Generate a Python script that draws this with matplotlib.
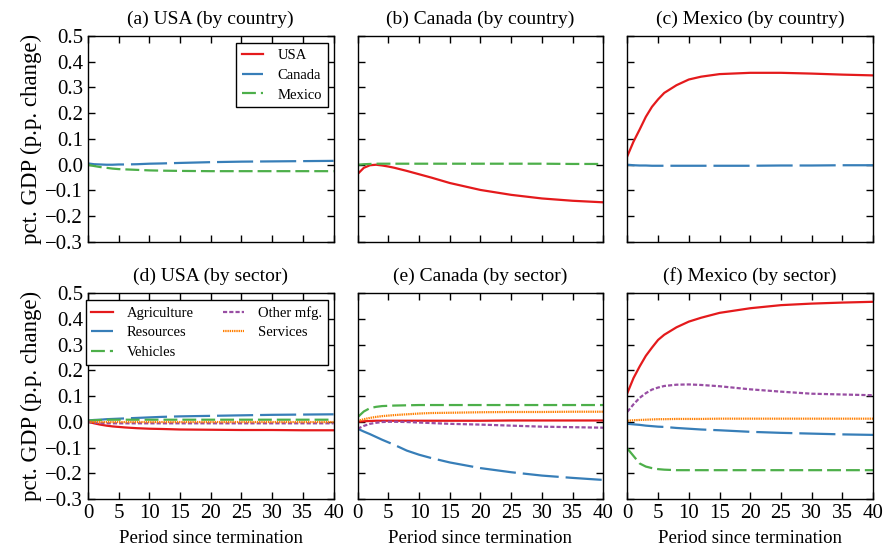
import matplotlib
matplotlib.use('Agg')
import matplotlib.pyplot as plt

periods = [0, 1, 2, 3, 4, 5, 6, 8, 10, 12, 15, 20, 25, 30, 35, 40]

# --- top row: effect by country ---
usa_canada = [0.005, 0.002, 0.001, 0.000, 0.000, 0.001, 0.001, 0.002, 0.004, 0.005, 0.007, 0.010, 0.012, 0.013, 0.014, 0.015]
usa_mexico = [0.000, -0.005, -0.009, -0.012, -0.015, -0.017, -0.018, -0.020, -0.022, -0.023, -0.024, -0.025, -0.025, -0.025, -0.025, -0.025]

can_usa = [-0.036, -0.012, -0.002, 0.000, -0.003, -0.007, -0.012, -0.024, -0.037, -0.050, -0.071, -0.098, -0.117, -0.131, -0.140, -0.146]
can_mexico = [0.000, 0.002, 0.003, 0.004, 0.004, 0.004, 0.004, 0.004, 0.004, 0.004, 0.004, 0.004, 0.004, 0.004, 0.003, 0.003]

mex_usa = [0.034, 0.090, 0.137, 0.186, 0.225, 0.254, 0.279, 0.309, 0.331, 0.342, 0.352, 0.357, 0.357, 0.354, 0.350, 0.347]
mex_canada = [0.000, -0.002, -0.003, -0.003, -0.004, -0.004, -0.004, -0.004, -0.004, -0.004, -0.004, -0.004, -0.003, -0.003, -0.002, -0.002]

# --- bottom row: effect by sector ---
usa_agri = [0.000, -0.006, -0.011, -0.015, -0.018, -0.020, -0.022, -0.025, -0.027, -0.028, -0.030, -0.031, -0.032, -0.032, -0.033, -0.033]
usa_res = [0.005, 0.007, 0.008, 0.010, 0.011, 0.012, 0.013, 0.015, 0.017, 0.019, 0.021, 0.023, 0.025, 0.027, 0.028, 0.029]
usa_veh = [0.004, 0.006, 0.007, 0.008, 0.008, 0.008, 0.008, 0.008, 0.008, 0.008, 0.008, 0.008, 0.008, 0.008, 0.008, 0.008]
usa_mfg = [0.000, -0.003, -0.005, -0.006, -0.006, -0.006, -0.006, -0.006, -0.006, -0.006, -0.006, -0.006, -0.006, -0.006, -0.006, -0.006]
usa_serv = [0.000, -0.001, -0.001, -0.001, -0.001, -0.001, -0.001, -0.001, -0.001, -0.001, -0.001, -0.001, -0.001, -0.001, -0.001, -0.001]

can_agri = [0.000, 0.002, 0.003, 0.004, 0.004, 0.004, 0.004, 0.004, 0.004, 0.004, 0.004, 0.004, 0.005, 0.005, 0.005, 0.005]
can_res = [-0.027, -0.038, -0.048, -0.059, -0.070, -0.080, -0.090, -0.112, -0.128, -0.141, -0.158, -0.180, -0.196, -0.209, -0.218, -0.226]
can_veh = [0.018, 0.040, 0.053, 0.058, 0.061, 0.062, 0.063, 0.064, 0.065, 0.065, 0.065, 0.065, 0.065, 0.065, 0.065, 0.065]
can_mfg = [-0.027, -0.016, -0.008, -0.004, -0.001, 0.000, 0.000, -0.001, -0.003, -0.005, -0.008, -0.011, -0.015, -0.019, -0.021, -0.023]
can_serv = [0.003, 0.010, 0.015, 0.019, 0.022, 0.024, 0.026, 0.029, 0.032, 0.034, 0.035, 0.037, 0.038, 0.038, 0.039, 0.039]

mex_agri = [0.112, 0.170, 0.215, 0.256, 0.288, 0.318, 0.338, 0.367, 0.389, 0.404, 0.423, 0.441, 0.453, 0.459, 0.463, 0.466]
mex_res = [-0.008, -0.010, -0.012, -0.015, -0.017, -0.019, -0.020, -0.024, -0.027, -0.030, -0.033, -0.039, -0.043, -0.046, -0.049, -0.051]
mex_veh = [-0.104, -0.133, -0.162, -0.174, -0.180, -0.184, -0.186, -0.188, -0.188, -0.188, -0.188, -0.188, -0.188, -0.188, -0.188, -0.188]
mex_mfg = [0.039, 0.068, 0.093, 0.111, 0.125, 0.133, 0.139, 0.144, 0.145, 0.143, 0.138, 0.126, 0.117, 0.109, 0.106, 0.103]
mex_serv = [0.004, 0.006, 0.007, 0.008, 0.009, 0.010, 0.010, 0.011, 0.011, 0.011, 0.012, 0.012, 0.012, 0.012, 0.012, 0.012]

titles = ["(a) USA (by country)", "(b) Canada (by country)", "(c) Mexico (by country)",
          "(d) USA (by sector)", "(e) Canada (by sector)", "(f) Mexico (by sector)"]

plt.rcParams['font.family'] = ['Liberation Serif', 'DejaVu Serif']
plt.rcParams['lines.scale_dashes'] = False

# line styles (colour, dashes in points)
styles = {
    'USA': ('#e41a1c', None),
    'Canada': ('#377eb8', (26, 5)),
    'Mexico': ('#4daf4a', (10, 3.6)),
    'Agriculture': ('#e41a1c', None),
    'Resources': ('#377eb8', (26, 5)),
    'Vehicles': ('#4daf4a', (10, 3.6)),
    'Other mfg.': ('#984ea3', (3, 1.5)),
    'Services': ('#ff7f00', (1, 0.6)),
}

legend_kw = dict(fontsize=10.5, fancybox=False, edgecolor='black', framealpha=1,
                 handlelength=1.45, handletextpad=0.95, labelspacing=0.45,
                 borderpad=0.4, borderaxespad=0)


def draw(ax, name, values):
    color, dashes = styles[name]
    line, = ax.plot(periods, values, color=color, lw=1.6, label=name)
    if dashes is not None:
        line.set_dashes(dashes)
    return line


fig, axes = plt.subplots(2, 3, figsize=(8.84, 5.48), dpi=100)
fig.subplots_adjust(left=0.0995, right=0.9876, top=0.9343, bottom=0.0894,
                    wspace=0.098, hspace=0.248)

# top row
ax = axes[0, 0]
h_can = draw(ax, 'Canada', usa_canada)
h_mex = draw(ax, 'Mexico', usa_mexico)
ax = axes[0, 1]
h_usa = draw(ax, 'USA', can_usa)
draw(ax, 'Mexico', can_mexico)
ax = axes[0, 2]
draw(ax, 'USA', mex_usa)
draw(ax, 'Canada', mex_canada)

leg = axes[0, 0].legend([h_usa, h_can, h_mex], ['USA', 'Canada', 'Mexico'],
                        loc='upper right', bbox_to_anchor=(0.9755, 0.966),
                        **legend_kw)
leg.get_frame().set_linewidth(1)

# bottom row
sector_data = [
    [usa_agri, usa_res, usa_veh, usa_mfg, usa_serv],
    [can_agri, can_res, can_veh, can_mfg, can_serv],
    [mex_agri, mex_res, mex_veh, mex_mfg, mex_serv],
]
sectors = ['Agriculture', 'Resources', 'Vehicles', 'Other mfg.', 'Services']
for j, rows in enumerate(sector_data):
    for name, vals in zip(sectors, rows):
        draw(axes[1, j], name, vals)

leg = axes[1, 0].legend(loc='upper right', bbox_to_anchor=(0.9755, 0.966),
                        ncol=2, columnspacing=2.0, **legend_kw)
leg.get_frame().set_linewidth(1)

for i in range(2):
    for j in range(3):
        ax = axes[i, j]
        ax.set_xlim(0, 40)
        ax.set_ylim(-0.3, 0.5)
        ax.set_xticks(range(0, 41, 5))
        ax.set_yticks([-0.3, -0.2, -0.1, 0.0, 0.1, 0.2, 0.3, 0.4, 0.5])
        ax.tick_params(direction='in', top=True, right=True, length=5,
                       width=1, labelsize=15)
        ax.set_title(titles[i * 3 + j], fontsize=14, pad=9)
        if j > 0:
            ax.set_yticklabels([])
        else:
            ax.set_ylabel('pct. GDP (p.p. change)', fontsize=16.5, labelpad=2)
        if i == 0:
            ax.set_xticklabels([])
        else:
            ax.set_xlabel('Period since termination', fontsize=13.5, labelpad=5)
        for s in ax.spines.values():
            s.set_linewidth(1)

fig.savefig('out.png', dpi=100)
